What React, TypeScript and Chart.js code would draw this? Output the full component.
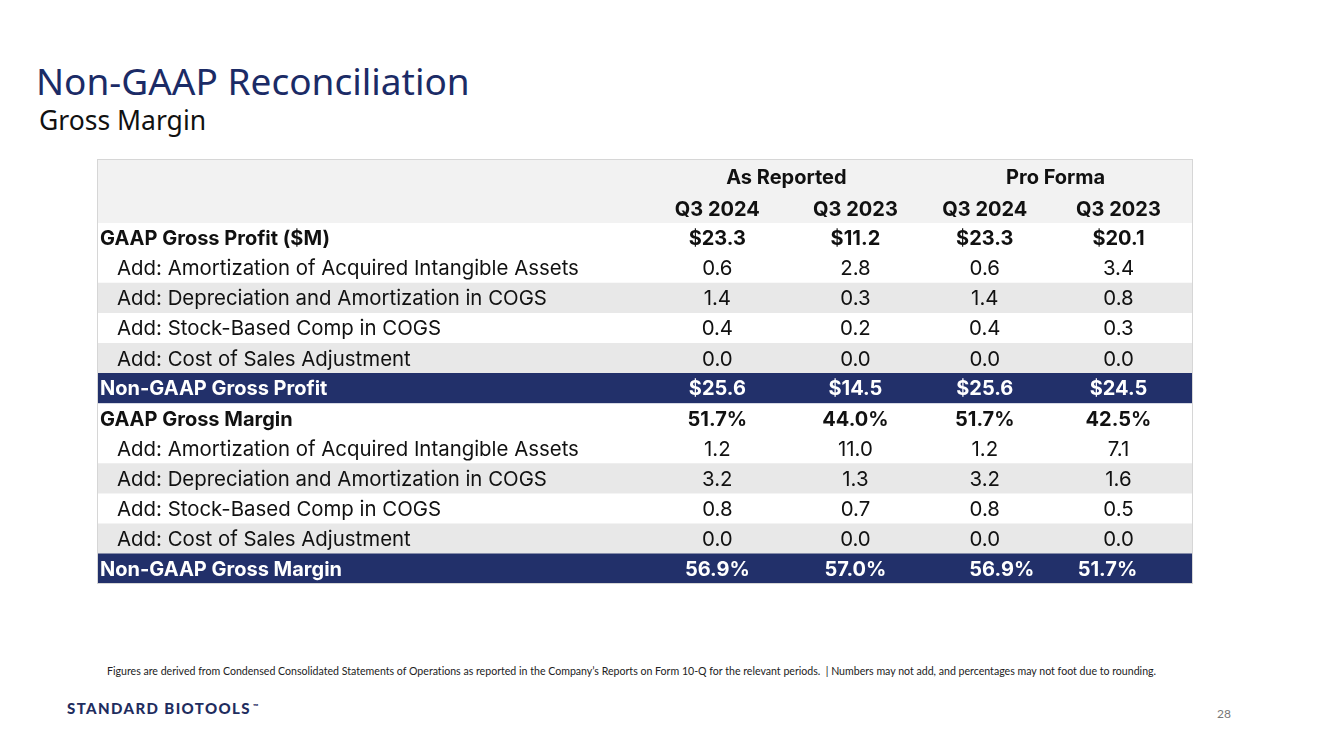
import React, { useEffect, useRef } from "react";
import { Chart, registerables } from "chart.js";

Chart.register(...registerables);

// ---------- data ----------
const GROUP_LABELS = ["As Reported", "Pro Forma"];
const PERIOD_LABELS = ["Q3 2024", "Q3 2023", "Q3 2024", "Q3 2023"];

const ROW_LABELS = [
  "GAAP Gross Profit ($M)",
  "Add: Amortization of Acquired Intangible Assets",
  "Add: Depreciation and Amortization in COGS",
  "Add: Stock-Based Comp in COGS",
  "Add: Cost of Sales Adjustment",
  "Non-GAAP Gross Profit",
  "GAAP Gross Margin",
  "Add: Amortization of Acquired Intangible Assets",
  "Add: Depreciation and Amortization in COGS",
  "Add: Stock-Based Comp in COGS",
  "Add: Cost of Sales Adjustment",
  "Non-GAAP Gross Margin",
];

// subtotal = bold black, add = indented regular, total = navy band
const ROW_TYPES = [
  "subtotal", "add", "add", "add", "add", "total",
  "subtotal", "add", "add", "add", "add", "total",
];

const ROW_UNITS = ["$", "", "", "", "", "$", "%", "", "", "", "", "%"];

const AS_REPORTED_Q3_2024 = [23.3, 0.6, 1.4, 0.4, 0.0, 25.6, 51.7, 1.2, 3.2, 0.8, 0.0, 56.9];
const AS_REPORTED_Q3_2023 = [11.2, 2.8, 0.3, 0.2, 0.0, 14.5, 44.0, 11.0, 1.3, 0.7, 0.0, 57.0];
const PRO_FORMA_Q3_2024 = [23.3, 0.6, 1.4, 0.4, 0.0, 25.6, 51.7, 1.2, 3.2, 0.8, 0.0, 56.9];
const PRO_FORMA_Q3_2023 = [20.1, 3.4, 0.8, 0.3, 0.0, 24.5, 42.5, 7.1, 1.6, 0.5, 0.0, 51.7];

const VALUE_COLUMNS = [
  AS_REPORTED_Q3_2024,
  AS_REPORTED_Q3_2023,
  PRO_FORMA_Q3_2024,
  PRO_FORMA_Q3_2023,
];

// ---------- layout / style ----------
const COLUMN_X = [0.566, 0.692, 0.810, 0.932]; // column centres on the 0..1 x scale
const NAVY = "#22306a";
const GRAY_BAND = "#e8e8e8";
const HEADER_BG = "#f2f2f2";
const BORDER = "#d6d6d6";
const TABLE_FONT = "Inter, Lato, sans-serif";
const HEADER_H = 64;

function formatValue(v: number, unit: string) {
  const s = v.toFixed(1);
  if (unit === "$") return "$" + s;
  if (unit === "%") return s + "%";
  return s;
}

function bandColor(i: number) {
  const t = ROW_TYPES[i];
  if (t === "total") return NAVY;
  if (t === "subtotal") return "#ffffff";
  let k = 0;
  for (let j = i - 1; j >= 0 && ROW_TYPES[j] === "add"; j--) k++;
  return k % 2 === 1 ? GRAY_BAND : "#ffffff";
}

const tablePlugin = {
  id: "tableText",
  beforeDatasetsDraw(chart: any) {
    const { ctx, chartArea } = chart;
    ctx.save();
    ctx.fillStyle = HEADER_BG;
    ctx.fillRect(chartArea.left, 0, chartArea.right - chartArea.left, chartArea.top);
    ctx.restore();
  },
  afterDatasetsDraw(chart: any) {
    const { ctx, chartArea, scales } = chart;
    const xs = scales.x;
    const ys = scales.y;
    ctx.save();
    ctx.textBaseline = "middle";
    ctx.fillStyle = "#111111";

    // header rows
    ctx.font = `bold 20px ${TABLE_FONT}`;
    ctx.textAlign = "center";
    GROUP_LABELS.forEach((g, gi) => {
      const a = xs.getPixelForValue(COLUMN_X[gi * 2]);
      const b = xs.getPixelForValue(COLUMN_X[gi * 2 + 1]);
      ctx.fillText(g, (a + b) / 2 + (gi === 1 ? 4 : 0), chartArea.top - 45);
    });
    PERIOD_LABELS.forEach((p, pi) => {
      ctx.fillText(p, xs.getPixelForValue(COLUMN_X[pi]), chartArea.top - 13);
    });

    // body rows
    ROW_LABELS.forEach((label, i) => {
      const cy = ys.getPixelForValue(i) + 1;
      const type = ROW_TYPES[i];
      const bold = type !== "add";
      ctx.fillStyle = type === "total" ? "#ffffff" : "#111111";
      ctx.font = bold ? `bold 20px ${TABLE_FONT}` : `20.4px ${TABLE_FONT}`;
      ctx.textAlign = "left";
      ctx.fillText(label, chartArea.left + (type === "add" ? 20 : 3), cy);
      ctx.textAlign = "center";
      VALUE_COLUMNS.forEach((col, j) => {
        let cx = xs.getPixelForValue(COLUMN_X[j]);
        if (i === ROW_LABELS.length - 1 && j === 2) cx += 17;
        if (i === ROW_LABELS.length - 1 && j === 3) cx -= 11;
        ctx.fillText(formatValue(col[i], ROW_UNITS[i]), cx, cy);
      });
    });

    // outer border
    ctx.strokeStyle = BORDER;
    ctx.lineWidth = 1;
    ctx.strokeRect(chartArea.left + 0.5, 0.5, chartArea.right - chartArea.left - 1, chartArea.bottom - 1);
    ctx.restore();
  },
};

function TableChart() {
  const ref = useRef<HTMLCanvasElement | null>(null);
  useEffect(() => {
    if (!ref.current) return;
    const chart = new Chart(ref.current, {
      type: "bar",
      data: {
        labels: ROW_LABELS,
        datasets: [
          {
            label: "rows",
            data: ROW_LABELS.map(() => [0, 1]) as any,
            backgroundColor: ROW_LABELS.map((_, i) => bandColor(i)),
            borderWidth: 0,
            barPercentage: 1,
            categoryPercentage: 1,
          },
        ],
      },
      options: {
        indexAxis: "y",
        animation: false,
        responsive: true,
        maintainAspectRatio: false,
        layout: { padding: { top: HEADER_H, left: 0, right: 0, bottom: 0 } },
        plugins: { legend: { display: false }, tooltip: { enabled: false } },
        events: [],
        scales: {
          x: { type: "linear", min: 0, max: 1, display: false },
          y: { type: "category", display: false, offset: true },
        },
      },
      plugins: [tablePlugin],
    });
    return () => chart.destroy();
  }, []);
  return (
    <div style={{ position: "absolute", left: 97, top: 159, width: 1096, height: 425 }}>
      <canvas ref={ref} />
    </div>
  );
}

export default function App() {
  return (
    <div
      style={{
        position: "fixed",
        left: 0,
        top: 0,
        width: 1333,
        height: 749,
        background: "#ffffff",
        overflow: "hidden",
        fontVariantLigatures: "none",
      }}
    >
      <div
        style={{
          position: "absolute",
          left: 36,
          top: 57,
          fontFamily: "'Noto Sans', sans-serif",
          fontSize: 37,
          color: "#1b2b66",
          whiteSpace: "nowrap",
          lineHeight: "48px",
        }}
      >
        Non-GAAP Reconciliation
      </div>
      <div
        style={{
          position: "absolute",
          left: 39,
          top: 103,
          fontFamily: "'Noto Sans', sans-serif",
          fontSize: 26.5,
          color: "#111111",
          whiteSpace: "nowrap",
          lineHeight: "34px",
        }}
      >
        Gross Margin
      </div>
      <TableChart />
      <div
        style={{
          position: "absolute",
          left: 107,
          top: 664,
          fontFamily: "Lato, 'Noto Sans', sans-serif",
          fontSize: 10.6,
          color: "#222222",
          whiteSpace: "nowrap",
          lineHeight: "14px",
        }}
      >
        Figures are derived from Condensed Consolidated Statements of Operations as reported in the Company’s Reports on Form 10-Q for the relevant periods.&nbsp; | Numbers may not add, and percentages may not foot due to rounding.
      </div>
      <div
        style={{
          position: "absolute",
          left: 67,
          top: 698,
          fontFamily: "Lato, 'Noto Sans', sans-serif",
          fontWeight: 900,
          fontSize: 15,
          letterSpacing: 1.4,
          color: "#1f2d5f",
          whiteSpace: "nowrap",
          lineHeight: "20px",
        }}
      >
        STANDARD BIOTOOLS<span style={{ fontSize: 7, verticalAlign: "top", letterSpacing: 0, position: "relative", top: -2, marginLeft: 2 }}>™</span>
      </div>
      <div
        style={{
          position: "absolute",
          left: 1217,
          top: 706,
          fontFamily: "Lato, 'Noto Sans', sans-serif",
          fontSize: 12,
          color: "#777777",
          lineHeight: "16px",
        }}
      >
        28
      </div>
    </div>
  );
}
